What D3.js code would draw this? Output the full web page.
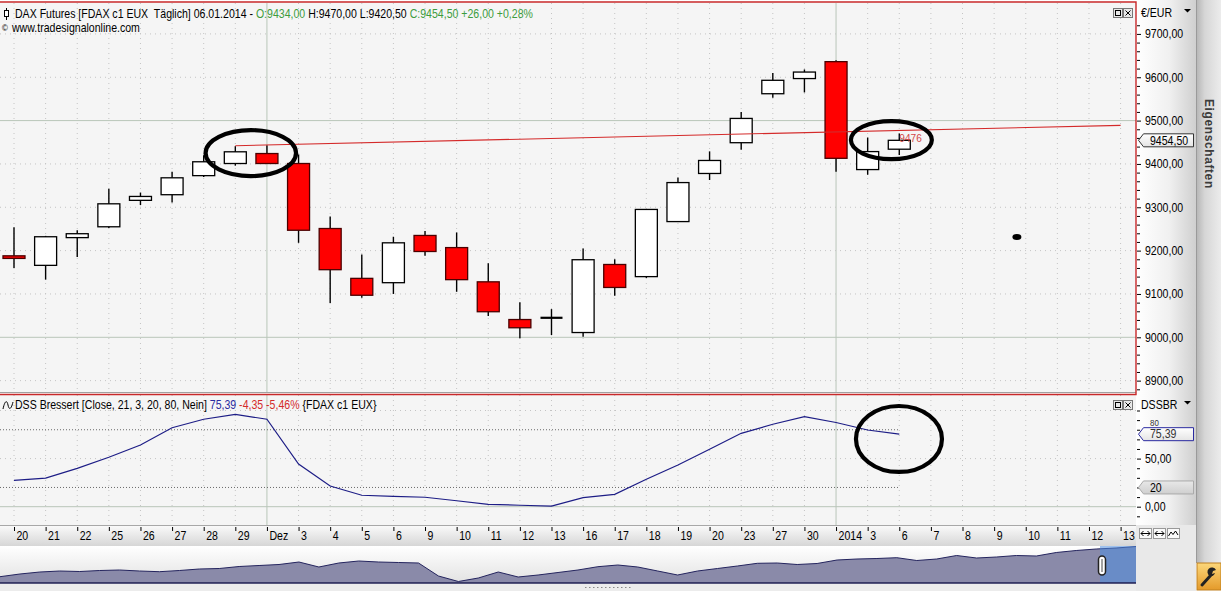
<!DOCTYPE html>
<html><head><meta charset="utf-8">
<script src="https://cdn.jsdelivr.net/npm/d3@7"></script>
<style>
body{margin:0;background:#fff;overflow:hidden}
text{font-family:"Liberation Sans",Arial,Helvetica,sans-serif}
</style>
</head><body>
<svg id="c" width="1221" height="591"></svg>
<script>
// ---------------- DATA ----------------
const dateLabels = ["20","21","22","25","26","27","28","29","Dez","3","4","5","6","9","10","11","12","13","16","17","18","19","20","23","27","30","2014","3","6","7","8","9","10","11","12","13"];
const opens  = [9188,9166,9230,9255,9316,9329,9373,9401,9424,9401,9251,9136,9126,9235,9207,9128,9041,9045,9011,9168,9140,9267,9378,9449,9562,9597,9636,9387,9434];
const highs  = [9254,9234,9247,9343,9334,9382,9420,9441,9443,9422,9279,9191,9232,9245,9242,9171,9081,9065,9205,9180,9296,9369,9429,9520,9610,9618,9639,9461,9470];
const lows   = [9160,9133,9185,9252,9305,9311,9370,9396,9400,9218,9079,9091,9100,9188,9105,9049,8998,9005,9001,9096,9137,9266,9363,9433,9553,9565,9382,9375,9420.5];
const closes = [9182,9232,9239,9308,9325,9368,9405,9428,9401,9247,9156,9097,9218,9198,9133,9059,9022,9045,9179,9115,9295,9357,9408,9505,9593,9612,9413,9428.5,9454.5];
const dssValues = [27.4,29.8,39.9,51.4,64.1,82.1,90.9,96,90.9,44.4,21.5,11.9,10.8,9.8,6.2,2.5,1.5,0.7,9.4,12.9,28.5,43.3,59.7,76.3,85.7,93.6,87.5,79.74,75.39];
const priceTicks = [8900,9000,9100,9200,9300,9400,9500,9600,9700];
const dssTicks = [0,50];
const dssLevels = [20,80];
const trendIdx = [7,35];
const trendPrice = [9442,9489];
const trendLabel = "9476";
const ringIdx = [7.49,27.75];
const ringPrice = [9425,9455];
const ringRx = [1.43,1.28];
const ringRy = [53,44];
const dssRing = [27.99,70.4,1.36,34.3];
const dotIdx = 31.72, dotPrice = 9231.5;
const navValues = [6.3,9,11,12,11.5,12.5,13,12,11.3,12.5,14,14.5,16.5,17.5,18.5,21,16,20,22,21,20.5,20,7,1.5,5,11,6,8,10.5,13,16.3,18,16,12,8,12,14.5,17,19.7,20,18.5,19.5,23,24,24.5,25.3,22.5,24,27.5,25,26,27.5,27,30.5,32.5,34,35,36.5];

// ---------------- SETUP ----------------
const svg = d3.select("#c");
const defs = svg.append("defs");
function grad(id, stops, vertical){
  const g = defs.append("linearGradient").attr("id",id)
    .attr("x1","0").attr("y1","0").attr("x2",vertical?"0":"1").attr("y2",vertical?"1":"0");
  stops.forEach(s=>g.append("stop").attr("offset",s[0]).attr("stop-color",s[1]));
}
grad("axisG",[["0","#ffffff"],["0.55","#f0f0f0"],["1","#cfcfcf"]],false);
grad("sideG",[["0","#b4b4b4"],["0.35","#d6d6d6"],["1","#ececec"]],false);
grad("stripG",[["0","#fbfbfb"],["1","#d6d6d6"]],true);
grad("navG",[["0","#ffffff"],["1","#e2e2e2"]],true);
grad("boxG",[["0","#ffffff"],["1","#e4e4e4"]],true);
grad("greyBoxG",[["0","#e8e8e8"],["1","#cfcfcf"]],true);
grad("wrenchG",[["0","#fcd77a"],["1","#e49a2a"]],true);

const SX = 0.88;
function txt(g,x,y,s,o={}){
  return g.append("text").attr("transform",`translate(${x},${y}) scale(${o.sx||SX},1)`)
    .attr("font-size",o.size||12).attr("fill",o.fill||"#000")
    .attr("text-anchor",o.anchor||"start").attr("font-weight",o.weight||"normal").text(s);
}
const fmt = d => d3.format(".2f")(d).replace(".",",");

const PL=0, PR=1136;
const mainTop=3, mainBot=393, lowTop=395, lowBot=525;
const x = d3.scaleLinear().domain([0,35]).range([14,1120.6]);
const yP = d3.scaleLinear().domain([9000,9500]).range([337.3,120.6]);
const yD = d3.scaleLinear().domain([0,50]).range([506.7,458.6]);

// backgrounds
svg.append("rect").attr("x",0).attr("y",0).attr("width",1221).attr("height",591).attr("fill","#ffffff");
svg.append("rect").attr("x",PL).attr("y",mainTop).attr("width",PR).attr("height",mainBot-mainTop).attr("fill","#f5f5f5");
svg.append("rect").attr("x",PL).attr("y",lowTop).attr("width",PR).attr("height",lowBot-lowTop).attr("fill","#f5f5f5");
svg.append("rect").attr("x",1137).attr("y",0).attr("width",59).attr("height",525).attr("fill","url(#axisG)");
svg.append("rect").attr("x",1136).attr("y",525).attr("width",60).attr("height",66).attr("fill","#e9e9e9");
svg.append("rect").attr("x",1196).attr("y",0).attr("width",25).attr("height",563).attr("fill","url(#sideG)");
svg.append("line").attr("x1",1196.5).attr("x2",1196.5).attr("y1",0).attr("y2",563).attr("stroke","#9a9a9a");

// ---------------- GRID ----------------
const grid = svg.append("g");
d3.range(36).forEach(i=>{
  const solid = (dateLabels[i]==="Dez"||dateLabels[i]==="2014");
  [[mainTop,mainBot],[lowTop,lowBot]].forEach(r=>{
    grid.append("line").attr("x1",x(i)).attr("x2",x(i)).attr("y1",r[0]).attr("y2",r[1])
      .attr("stroke",solid?"#b9c6b9":"#c4c4c4").attr("stroke-width",1)
      .attr("stroke-dasharray",solid?null:"1,4");
  });
});
priceTicks.forEach(p=>{
  const solid = p%500===0;
  grid.append("line").attr("x1",PL).attr("x2",PR).attr("y1",yP(p)).attr("y2",yP(p))
    .attr("stroke",solid?"#b9c6b9":"#c4c4c4").attr("stroke-dasharray",solid?null:"1,4");
});
[50,100].forEach(v=>grid.append("line").attr("x1",PL).attr("x2",PR).attr("y1",yD(v)).attr("y2",yD(v))
  .attr("stroke","#c4c4c4").attr("stroke-dasharray","1,4"));
grid.append("line").attr("x1",PL).attr("x2",PR).attr("y1",yD(0)).attr("y2",yD(0)).attr("stroke","#b9c6b9");
dssLevels.forEach(v=>grid.append("line").attr("x1",PL).attr("x2",x(dssValues.length-1)).attr("y1",yD(v)).attr("y2",yD(v))
  .attr("stroke","#6a6a6a").attr("stroke-dasharray","1,2"));

// ---------------- CANDLES ----------------
const candles = d3.range(opens.length).map(i=>({i,o:opens[i],h:highs[i],l:lows[i],c:closes[i]}));
const cg = svg.append("g");
cg.selectAll("line.w").data(candles).join("line").attr("class","w")
  .attr("x1",d=>x(d.i)).attr("x2",d=>x(d.i)).attr("y1",d=>yP(d.h)).attr("y2",d=>yP(d.l))
  .attr("stroke","#000").attr("stroke-width",1.4);
const BW=22;
cg.selectAll("rect.b").data(candles.filter(d=>d.o!==d.c)).join("rect").attr("class","b")
  .attr("x",d=>x(d.i)-BW/2).attr("y",d=>yP(Math.max(d.o,d.c)))
  .attr("width",BW).attr("height",d=>Math.max(1.5,yP(Math.min(d.o,d.c))-yP(Math.max(d.o,d.c))))
  .attr("fill",d=>d.c>d.o?"#ffffff":"#ff0000").attr("stroke",d=>d.c>d.o?"#000":"#4a0000").attr("stroke-width",1.3);
cg.selectAll("line.d").data(candles.filter(d=>d.o===d.c)).join("line").attr("class","d")
  .attr("x1",d=>x(d.i)-BW/2).attr("x2",d=>x(d.i)+BW/2).attr("y1",d=>yP(d.o)).attr("y2",d=>yP(d.o))
  .attr("stroke","#000").attr("stroke-width",2.2);

// trendline
svg.append("line").attr("x1",x(trendIdx[0])).attr("x2",x(trendIdx[1]))
  .attr("y1",yP(trendPrice[0])).attr("y2",yP(trendPrice[1])).attr("stroke","#d42a2a").attr("stroke-width",1.1);
txt(svg,x(28),yP(+trendLabel)+11,trendLabel,{size:11.5,fill:"#d24848"});

// dot
svg.append("ellipse").attr("cx",x(dotIdx)).attr("cy",yP(dotPrice)).attr("rx",4.5).attr("ry",3).attr("fill","#000");

// rings
const unitX = x(1)-x(0), unitP = yP(9000)-yP(9001);
ringIdx.forEach((ix,k)=>{
  svg.append("ellipse").attr("cx",x(ix)).attr("cy",yP(ringPrice[k]))
    .attr("rx",ringRx[k]*unitX).attr("ry",ringRy[k]*unitP)
    .attr("fill","none").attr("stroke","#000").attr("stroke-width",4.2);
});

// ---------------- DSS ----------------
const line = d3.line().x((d,i)=>x(i)).y(d=>yD(d));
svg.append("path").datum(dssValues).attr("d",line).attr("fill","none").attr("stroke","#1d1d86").attr("stroke-width",1.2);
svg.append("ellipse").attr("cx",x(dssRing[0])).attr("cy",yD(dssRing[1]))
  .attr("rx",dssRing[2]*unitX).attr("ry",dssRing[3]*(yD(0)-yD(1)))
  .attr("fill","none").attr("stroke","#000").attr("stroke-width",4.2);

// ---------------- HEADERS ----------------
svg.append("line").attr("x1",6.5).attr("x2",6.5).attr("y1",8).attr("y2",20).attr("stroke","#000");
svg.append("rect").attr("x",4.5).attr("y",10.5).attr("width",4).attr("height",6).attr("fill","#fff").attr("stroke","#000");
const h1 = svg.append("text").attr("transform",`translate(15,17.5) scale(${SX},1)`).attr("font-size",12).attr("xml:space","preserve");
[["DAX Futures [FDAX c1 EUX  Täglich] 06.01.2014 - ","#000"],["O:9434,00","#3d9c3d"],[" H:9470,00 L:9420,50 ","#000"],["C:9454,50 +26,00 +0,28%","#3d9c3d"]]
  .forEach(s=>h1.append("tspan").attr("fill",s[1]).text(s[0]));
txt(svg,2,31,"©",{size:9});
txt(svg,12,32,"www.tradesignalonline.com",{size:12});

// dss header
svg.append("path").attr("d","M3,409 C5,400 7,400 8,405 C9,410 11,410 13,402").attr("fill","none").attr("stroke","#000").attr("stroke-width",1);
const h2 = svg.append("text").attr("transform",`translate(15,409.3) scale(${SX},1)`).attr("font-size",12).attr("xml:space","preserve");
[["DSS Bressert [Close, 21, 3, 20, 80, Nein] ","#000"],["75,39","#2a2aa0"],[" -4,35 -5,46%","#d42a2a"],[" {FDAX c1 EUX}","#000"]]
  .forEach(s=>h2.append("tspan").attr("fill",s[1]).text(s[0]));

// panel icons
[[8],[400]].forEach(r=>{
  const y0=r[0];
  svg.append("rect").attr("x",1113.5).attr("y",y0+0.5).attr("width",9).attr("height",9).attr("fill","#e8e8e8").attr("stroke","#777");
  svg.append("rect").attr("x",1115.5).attr("y",y0+2.5).attr("width",5).attr("height",5).attr("fill","none").attr("stroke","#000");
  svg.append("rect").attr("x",1123.5).attr("y",y0+0.5).attr("width",9).attr("height",9).attr("fill","#e8e8e8").attr("stroke","#777");
  svg.append("path").attr("d",`M1125.5,${y0+2.5}L1130.5,${y0+7.5}M1130.5,${y0+2.5}L1125.5,${y0+7.5}`).attr("stroke","#000");
});

// ---------------- RIGHT AXES ----------------
const ax1 = svg.append("g").attr("transform","translate(1137,0)")
  .call(d3.axisRight(yP).tickValues(priceTicks).tickSize(4).tickPadding(4).tickFormat(fmt));
const ax1m = svg.append("g").attr("transform","translate(1137,0)")
  .call(d3.axisRight(yP).tickValues(d3.range(8880,9721,20).filter(v=>v%100!==0)).tickSize(3).tickFormat(""));
[ax1,ax1m].forEach(a=>{a.select(".domain").remove();a.selectAll("line").attr("stroke","#000");});
ax1.selectAll("text").attr("font-size",12).attr("fill","#000")
  .attr("font-family",'"Liberation Sans",Arial,sans-serif').attr("transform",`scale(${SX},1)`).attr("x",8/SX);
txt(svg,1141,16.7,"€/EUR");
svg.append("path").attr("d","M1184,9L1191,9L1187.5,12.5Z").attr("fill","#000");

const ax2 = svg.append("g").attr("transform","translate(1137,0)")
  .call(d3.axisRight(yD).tickValues(dssTicks).tickSize(4).tickPadding(4).tickFormat(fmt));
const ax2m = svg.append("g").attr("transform","translate(1137,0)")
  .call(d3.axisRight(yD).tickValues([-10,10,20,30,40,60,70,80,90,100]).tickSize(3).tickFormat(""));
[ax2,ax2m].forEach(a=>{a.select(".domain").remove();a.selectAll("line").attr("stroke","#000");});
ax2.selectAll("text").attr("font-size",12).attr("fill","#000")
  .attr("font-family",'"Liberation Sans",Arial,sans-serif').attr("transform",`scale(${SX},1)`).attr("x",8/SX);
txt(svg,1141,408.5,"DSSBR");
svg.append("path").attr("d","M1184,401L1191,401L1187.5,404.5Z").attr("fill","#000");
// level label "80" peeking just above the value marker
txt(svg,1150,425.8,"80",{fill:"#333",size:9});

// markers
function marker(yc, label, stroke, fill, tcol){
  const x0=1138.5, x1=1193.5, h=13;
  svg.append("path").attr("d",`M${x0},${yc}L${x0+5},${yc-h/2}L${x1},${yc-h/2}L${x1},${yc+h/2}L${x0+5},${yc+h/2}Z`)
    .attr("fill",fill).attr("stroke",stroke).attr("stroke-width",1);
  txt(svg,1150,yc+4.3,label,{fill:tcol});
}
marker(yP(closes[closes.length-1]), fmt(closes[closes.length-1]), "#333", "url(#boxG)", "#000");
marker(yD(dssValues[dssValues.length-1]), fmt(dssValues[dssValues.length-1]), "#2a2aa0", "url(#boxG)", "#333");
marker(yD(dssLevels[0]), String(dssLevels[0]), "#aaa", "url(#greyBoxG)", "#000");

// ---------------- X AXIS ----------------
svg.append("rect").attr("x",0).attr("y",525).attr("width",1136).attr("height",21).attr("fill","url(#stripG)");
svg.append("line").attr("x1",0).attr("x2",1136).attr("y1",525.5).attr("y2",525.5).attr("stroke","#a8a8a8");
const xa = svg.append("g").attr("transform","translate(0,527)")
  .call(d3.axisBottom(x).tickValues(d3.range(36)).tickSize(4).tickFormat(i=>dateLabels[i]));
xa.select(".domain").remove();
xa.selectAll("line").attr("stroke","#000");
xa.selectAll("text").attr("text-anchor","start").attr("font-size",12).attr("fill","#000")
  .attr("font-family",'"Liberation Sans",Arial,sans-serif')
  .attr("y",0).attr("dy",0).attr("transform",`translate(2,13) scale(${SX},1)`).attr("x",0);

// small icons
[1139,1153,1167].forEach((xx,k)=>{
  svg.append("rect").attr("x",xx+0.5).attr("y",528.5).attr("width",12).attr("height",10).attr("fill","#fafafa").attr("stroke","#999");
  if(k<2){
    svg.append("path").attr("d",`M${xx+2},533.5L${xx+11},533.5M${xx+2},533.5L${xx+4.5},531M${xx+2},533.5L${xx+4.5},536M${xx+11},533.5L${xx+8.5},531M${xx+11},533.5L${xx+8.5},536`).attr("stroke","#000").attr("fill","none");
  } else {
    svg.append("path").attr("d",`M${xx+1.5},536L${xx+4},532L${xx+6},534.5L${xx+8.5},531L${xx+11},535`).attr("stroke","#000").attr("fill","none");
  }
});

// ---------------- NAVIGATOR ----------------
svg.append("rect").attr("x",0).attr("y",546).attr("width",1136).attr("height",37).attr("fill","url(#navG)");
const xN = d3.scaleLinear().domain([0,navValues.length-1]).range([0,1136]);
const yN = d3.scaleLinear().domain([0,37]).range([583,546]);
svg.append("path").datum(navValues).attr("d",d3.area().x((d,i)=>xN(i)).y0(583).y1(d=>yN(d)))
  .attr("fill","#8a8aa9");
svg.append("path").datum(navValues).attr("d",d3.line().x((d,i)=>xN(i)).y(d=>yN(d)))
  .attr("fill","none").attr("stroke","#24245e").attr("stroke-width",1);
svg.append("rect").attr("x",1100).attr("y",546).attr("width",36).attr("height",37).attr("fill","#4f8ee0").attr("opacity",0.55);
svg.append("line").attr("x1",0).attr("x2",1136).attr("y1",583).attr("y2",583).attr("stroke","#1c1c50").attr("stroke-width",1.5);
svg.append("rect").attr("x",1098.5).attr("y",556).attr("width",7).attr("height",19).attr("rx",3.5).attr("fill","#fff").attr("stroke","#222").attr("stroke-width",1.5);
svg.append("line").attr("x1",1102).attr("x2",1102).attr("y1",559).attr("y2",572).attr("stroke","#444");
svg.append("rect").attr("x",0).attr("y",584).attr("width",1136).attr("height",7).attr("fill","#ececec");
svg.append("line").attr("x1",585).attr("x2",633).attr("y1",587.5).attr("y2",587.5).attr("stroke","#888").attr("stroke-dasharray","1.5,2.5");

// wrench
svg.append("rect").attr("x",1197).attr("y",563).attr("width",24).attr("height",27).attr("fill","url(#wrenchG)").attr("stroke","#c08020");
svg.append("path").attr("d","M1202,585L1211,575").attr("stroke","#222").attr("stroke-width",3).attr("stroke-linecap","round");
svg.append("path").attr("d","M1210,576 A4.5,4.5 0 1 1 1216,570 L1213,571 L1212,574 L1215,573 A4.5,4.5 0 0 1 1210,576Z").attr("fill","#222");

// sidebar label
svg.append("text").attr("transform","translate(1205,99) rotate(90)").attr("font-size",12).attr("font-weight","bold")
  .attr("letter-spacing",0.6).attr("fill","#3c3c3c").text("Eigenschaften");

// ---------------- BORDERS ----------------
svg.append("line").attr("x1",0).attr("x2",1136).attr("y1",392.5).attr("y2",392.5).attr("stroke","#a0a0a0");
svg.append("path").attr("d","M0,2L1136,2L1136,394.5L0,394.5").attr("fill","none").attr("stroke","#c8282a").attr("stroke-width",1.4);
</script>
</body></html>
